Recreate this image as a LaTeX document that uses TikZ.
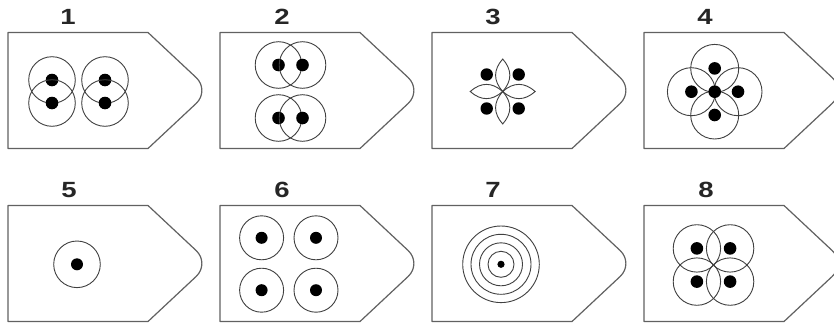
\documentclass[tikz,border=0pt]{standalone}
\usepackage{fontspec}
\usepackage{graphicx}
\setsansfont{Liberation Sans}
\begin{document}
\begin{tikzpicture}[x=1pt,y=-1pt]
\tikzset{
  outline/.style={draw=black!62, line width=1.2pt, line join=round},
  ring/.style={draw=black!75, line width=0.9pt},
  dot/.style={fill=black},
  lbl/.style={font=\sffamily\bfseries\fontsize{22}{22}\selectfont, text=black!85, inner sep=0pt},
  panel/.pic={\draw[outline] (0,0) -- (140,0) -- (188.13,45.02) .. controls (195.79,52.19) and (195.79,63.81) .. (188.13,70.98) -- (140,116) -- (0,116) -- cycle;}
}
\useasboundingbox (0,0) rectangle (834,324);
\clip (0,0) rectangle (834,324);
\fill[white] (0,0) rectangle (834,324);

% labels
\node[lbl] (l1) at (68,17) {\scalebox{1.25}[1]{1}};
\node[lbl] (l2) at (282,17) {\scalebox{1.25}[1]{2}};
\node[lbl] (l3) at (493,17) {\scalebox{1.25}[1]{3}};
\node[lbl] (l4) at (705,17) {\scalebox{1.25}[1]{4}};
\node[lbl] (l5) at (69,190) {\scalebox{1.25}[1]{5}};
\node[lbl] (l6) at (282,190) {\scalebox{1.25}[1]{6}};
\node[lbl] (l7) at (493,190) {\scalebox{1.25}[1]{7}};
\node[lbl] (l8) at (706,190) {\scalebox{1.25}[1]{8}};

% panels
\pic at (8,32.5) {panel};
\pic at (220,32.5) {panel};
\pic at (432,32.5) {panel};
\pic at (644,32.5) {panel};
\pic at (8,205.5) {panel};
\pic at (220,205.5) {panel};
\pic at (432,205.5) {panel};
\pic at (644,205.5) {panel};

% panel 1
\begin{scope}[shift={(78.5,91.5)}]
  \foreach \x in {-26.5,26.5} \foreach \y in {-11.5,11.5} {
    \draw[ring] (\x,\y) circle[radius=23.3pt];
    \fill[dot] (\x,\y) circle[radius=6.3pt];
  }
\end{scope}

% panel 2
\begin{scope}[shift={(290.5,91.5)}]
  \foreach \x in {-12,12} \foreach \y in {-26.5,26.5} {
    \draw[ring] (\x,\y) circle[radius=23.3pt];
    \fill[dot] (\x,\y) circle[radius=6.3pt];
  }
\end{scope}

% panel 3
\begin{scope}[shift={(502.7,91.5)}]
  \foreach \a in {0,90,180,270} {
    \draw[ring, rotate=\a] (0,0) .. controls (9.5,-10.8) and (9.5,-21.7) .. (0,-32.5)
      .. controls (-9.5,-21.7) and (-9.5,-10.8) .. (0,0);
  }
  \foreach \x in {-16,16} \foreach \y in {-17,17} {
    \fill[dot] (\x,\y) circle[radius=6.2pt];
  }
\end{scope}

% panel 4
\begin{scope}[shift={(714.7,91.7)}]
  \foreach \x/\y in {0/-23.3,0/23.3,-23.3/0,23.3/0} {
    \draw[ring] (\x,\y) circle[radius=24pt];
    \fill[dot] (\x,\y) circle[radius=6.3pt];
  }
  \fill[dot] (0,0) circle[radius=6.3pt];
\end{scope}

% panel 5
\begin{scope}[shift={(77,264.3)}]
  \draw[ring] (0,0) circle[radius=23.3pt];
  \fill[dot] (0,0) circle[radius=6pt];
\end{scope}

% panel 6
\begin{scope}[shift={(288.8,264)}]
  \foreach \x in {-27.2,27.2} \foreach \y in {-26.2,26.2} {
    \draw[ring] (\x,\y) circle[radius=22pt];
    \fill[dot] (\x,\y) circle[radius=6pt];
  }
\end{scope}

% panel 7
\begin{scope}[shift={(501,264.3)}]
  \foreach \r in {13,21.5,30,38.3} {
    \draw[ring] (0,0) circle[radius=\r pt];
  }
  \fill[dot] (0,0) circle[radius=3.6pt];
\end{scope}

% panel 8
\begin{scope}[shift={(713.5,265)}]
  \foreach \x in {-16.6,16.6} \foreach \y in {-16.6,16.6} {
    \draw[ring] (\x,\y) circle[radius=23.7pt];
    \fill[dot] (\x,\y) circle[radius=6.3pt];
  }
\end{scope}
\end{tikzpicture}
\end{document}
